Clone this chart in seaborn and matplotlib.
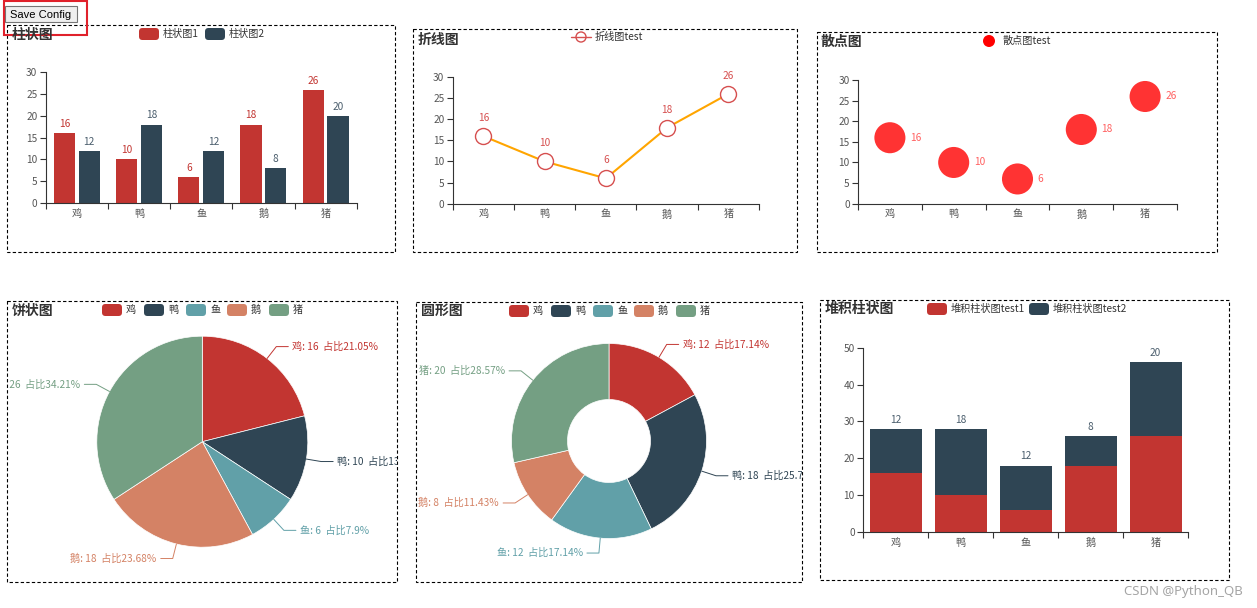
import numpy as np
import pandas as pd
import matplotlib
matplotlib.use("Agg")
import matplotlib.pyplot as plt
from matplotlib.patches import Rectangle, FancyBboxPatch, Circle
from matplotlib.lines import Line2D
import seaborn as sns

# ---------------- data ----------------
cats = ["鸡", "鸭", "鱼", "鹅", "猪"]
bar_series1 = [16, 10, 6, 18, 26]
bar_series2 = [12, 18, 12, 8, 20]
line_vals = [16, 10, 6, 18, 26]
scatter_vals = [16, 10, 6, 18, 26]
pie_vals = [16, 10, 6, 18, 26]
donut_vals = [12, 18, 12, 8, 20]
stack1 = [16, 10, 6, 18, 26]
stack2 = [12, 18, 12, 8, 20]

bar_names = ["柱状图1", "柱状图2"]
line_name = "折线图test"
scatter_name = "散点图test"
stack_names = ["堆积柱状图test1", "堆积柱状图test2"]
titles = ["柱状图", "折线图", "散点图", "饼状图", "圆形图", "堆积柱状图"]

RED, DARK, TEAL, ORANGE, GREEN = "#c23531", "#2f4554", "#61a0a8", "#d48265", "#749f83"
pie_colors = [RED, DARK, TEAL, ORANGE, GREEN]

sns.set_style("ticks")
plt.rcParams["font.family"] = ["Noto Sans CJK SC", "DejaVu Sans"]
plt.rcParams["axes.unicode_minus"] = False

W, H = 1257, 608
fig = plt.figure(figsize=(W / 100, H / 100), dpi=100)
fig.patch.set_facecolor("white")

ov = fig.add_axes([0, 0, 1, 1])
ov.set_xlim(0, W)
ov.set_ylim(H, 0)
ov.axis("off")

FS = 7.3
AXC = "#333333"
LBL = "#555555"


def px_axes(x0, y0, x1, y1):
    return fig.add_axes([x0 / W, 1 - y1 / H, (x1 - x0) / W, (y1 - y0) / H])


def style(ax, ymax, step):
    ax.set_xlim(-0.5, len(cats) - 0.5)
    ax.set_ylim(0, ymax)
    ax.set_yticks(np.arange(0, ymax + 1, step))
    ax.set_xticks(range(len(cats)))
    ax.set_xticklabels(cats)
    ax.set_xticks(np.arange(-0.5, len(cats), 1.0), minor=True)
    ax.tick_params(axis="x", which="major", length=0, pad=4, labelsize=FS, labelcolor=LBL)
    ax.tick_params(axis="x", which="minor", bottom=True, length=4, width=0.8, color=AXC, direction="out")
    ax.tick_params(axis="y", left=True, length=4, width=0.8, color=AXC, pad=2,
                   labelsize=FS, labelcolor=LBL, direction="out")
    for s in ["top", "right"]:
        ax.spines[s].set_visible(False)
    for s in ["left", "bottom"]:
        ax.spines[s].set_color(AXC)
        ax.spines[s].set_linewidth(0.8)
    ax.set_xlabel("")
    ax.set_ylabel("")
    ax.set_facecolor("none")
    ax.grid(False)


def box(x0, y0, x1, y1):
    ov.add_patch(Rectangle((x0, y0), x1 - x0, y1 - y0, fill=False, ec="black",
                           lw=0.8, ls=(0, (3, 2))))


def title(x, y, t):
    ov.text(x, y, t, fontsize=10, fontweight="bold", color="#333333", ha="left", va="center")


def rect_icon(x, y, color, label):
    ov.add_patch(FancyBboxPatch((x, y - 6), 20, 12, boxstyle="round,pad=0,rounding_size=3.5",
                                fc=color, ec="none"))
    ov.text(x + 24, y, label, fontsize=FS, color="#333333", ha="left", va="center")


def pct_labels(vals):
    total = sum(vals)
    raw = [v / total * 10000 for v in vals]
    fl = [int(np.floor(r)) for r in raw]
    rem = 10000 - sum(fl)
    order = sorted(range(len(vals)), key=lambda i: raw[i] - fl[i], reverse=True)
    for i in order[:rem]:
        fl[i] += 1
    return [f"{f / 100:.2f}".rstrip("0").rstrip(".") for f in fl]


# ---------------- boxes, titles ----------------
box(7, 25, 395, 252)
box(413, 29, 797, 252)
box(817, 32, 1217, 252)
box(7, 301, 397, 582)
box(416, 302, 802, 582)
box(820, 300, 1229, 580)

title(12, 35, titles[0])
title(418, 40, titles[1])
title(821, 42, titles[2])
title(12, 311, titles[3])
title(421, 311, titles[4])
title(825, 309, titles[5])

# ---------------- panel 1: grouped bars ----------------
ax1 = px_axes(45.7, 72.3, 356.7, 203)
df1 = pd.DataFrame({
    "cat": cats * 2,
    "series": [bar_names[0]] * len(cats) + [bar_names[1]] * len(cats),
    "value": bar_series1 + bar_series2,
})
sns.barplot(data=df1, x="cat", y="value", hue="series", palette=[RED, DARK], saturation=1,
            gap=0.15, linewidth=0, legend=False, ax=ax1)
for cont, col in zip(ax1.containers, [RED, "#4a5d6c"]):
    ax1.bar_label(cont, padding=3, fontsize=FS, color=col)
style(ax1, 30, 5)
rect_icon(139, 34, RED, bar_names[0])
rect_icon(205, 34, DARK, bar_names[1])

# ---------------- panel 2: line ----------------
ax2 = px_axes(452.7, 77, 759, 203.7)
pos = np.arange(len(cats))
sns.lineplot(x=pos, y=line_vals, color="#ffa500", linewidth=1.5, marker="o", markersize=11.5,
             markerfacecolor="white", markeredgecolor="#d64f4f", markeredgewidth=1.0,
             sort=False, ax=ax2)
for i, v in enumerate(line_vals):
    ax2.annotate(str(v), (i, v), xytext=(0, 13), textcoords="offset points", ha="center",
                 va="center", fontsize=FS, color="#d64f4f")
style(ax2, 30, 5)
ov.add_line(Line2D([571, 591], [37, 37], color="#d64f4f", lw=1))
ov.add_patch(Circle((581, 37), 5, fc="white", ec="#d64f4f", lw=1))
ov.text(595, 37, line_name, fontsize=FS, color="#333333", ha="left", va="center")

# ---------------- panel 3: scatter ----------------
ax3 = px_axes(858, 80, 1177, 203.7)
sns.scatterplot(x=pos, y=scatter_vals, s=500, color="#ff3333", edgecolor="none", legend=False, ax=ax3)
for i, v in enumerate(scatter_vals):
    ax3.annotate(str(v), (i, v), xytext=(14.5, 0), textcoords="offset points", ha="left",
                 va="center", fontsize=FS, color="#ff6060")
style(ax3, 30, 5)
ov.add_patch(Circle((989, 41), 6, fc="#ff0000", ec="none"))
ov.text(1003, 41, scatter_name, fontsize=FS, color="#333333", ha="left", va="center")


# ---------------- pies ----------------
def pie_panel(bx, vals, center, radius, width=None):
    x0, y0, x1, y1 = bx
    ax = px_axes(x0, y0, x1, y1)
    wp = {"edgecolor": "white", "linewidth": 0.5}
    if width is not None:
        wp["width"] = width
    ax.pie(vals, colors=pie_colors, startangle=270, counterclock=True,
           center=center, radius=radius, wedgeprops=wp)
    ax.set_xlim(x0, x1)
    ax.set_ylim(y1, y0)
    ax.set_aspect("auto")
    ax.axis("off")
    total = sum(vals)
    pcts = pct_labels(vals)
    cum = 0
    cx, cy = center
    for name, v, p, col in zip(cats, vals, pcts, pie_colors):
        mid = (cum + v / 2) / total
        cum += v
        phi = np.deg2rad(90 - 360 * mid)
        ex, ey = cx + radius * np.cos(phi), cy - radius * np.sin(phi)
        kx, ky = cx + (radius + 15) * np.cos(phi), cy - (radius + 15) * np.sin(phi)
        side = 1 if np.cos(phi) >= 0 else -1
        hx = kx + side * 12
        ax.plot([ex, kx, hx], [ey, ky, ky], color=col, lw=0.7, clip_on=True)
        ax.text(hx + side * 4, ky, f"{name}: {v}  占比{p}%", fontsize=FS, color=col,
                ha="left" if side > 0 else "right", va="center", clip_on=True)
    return ax


pie_panel((7, 301, 397, 582), pie_vals, (202.3, 441.7), 105.5)
for x, name, col in zip([102, 144, 186, 227, 269], cats, pie_colors):
    rect_icon(x, 310, col, name)

pie_panel((416, 302, 802, 582), donut_vals, (609, 441), 97.5, width=56)
for x, name, col in zip([509, 551, 593, 634, 676], cats, pie_colors):
    rect_icon(x, 311, col, name)

# ---------------- panel 6: stacked bars ----------------
ax6 = px_axes(863, 347.7, 1188, 532)
totals = [a + b for a, b in zip(stack1, stack2)]
sns.barplot(x=cats, y=totals, color=DARK, saturation=1, width=0.8, linewidth=0, ax=ax6)
sns.barplot(x=cats, y=stack1, color=RED, saturation=1, width=0.8, linewidth=0, ax=ax6)
ax6.bar_label(ax6.containers[0], labels=[str(v) for v in stack2], padding=3, fontsize=FS,
              color="#4a5d6c")
style(ax6, 50, 10)
rect_icon(927, 309, RED, stack_names[0])
rect_icon(1029, 309, DARK, stack_names[1])

# ---------------- decorations ----------------
ov.add_patch(Rectangle((5, 6), 72, 16, fc="#efefef", ec="#767676", lw=0.8))
ov.text(41, 14.5, "Save Config", fontsize=8, color="black", ha="center", va="center",
        family=["Liberation Sans", "DejaVu Sans"])
ov.add_patch(Rectangle((4, 0.5), 83, 34.5, fill=False, ec="#e0212b", lw=1.5))
ov.text(1243, 592, "CSDN @Python_QB", fontsize=9.5, color="#a5a5a5", ha="right", va="center",
        family=["Noto Sans", "DejaVu Sans"])

fig.savefig("out.png", dpi=100, facecolor="white")
